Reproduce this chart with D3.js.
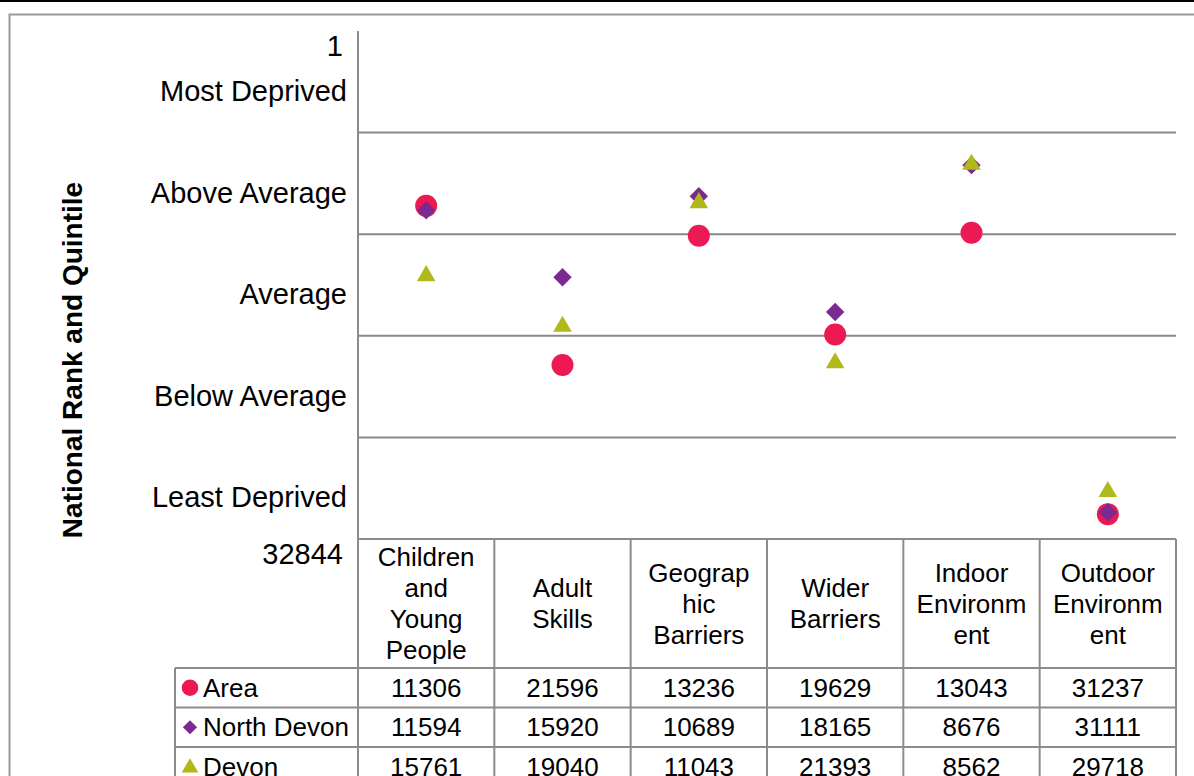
<!DOCTYPE html>
<html>
<head>
<meta charset="utf-8">
<script src="https://cdn.jsdelivr.net/npm/d3@7"></script>
<style>
  html, body { margin: 0; padding: 0; background: #fff; }
  svg { display: block; font-family: "Liberation Sans", Arial, sans-serif; }
</style>
</head>
<body>
<svg id="chart" width="1194" height="776"></svg>
<script>
// ---- data ----
const categories = ["Children and Young People", "Adult Skills", "Geographic Barriers", "Wider Barriers", "Indoor Environment", "Outdoor Environment"];
const categoryLines = [["Children", "and", "Young", "People"], ["Adult", "Skills"], ["Geograp", "hic", "Barriers"], ["Wider", "Barriers"], ["Indoor", "Environm", "ent"], ["Outdoor", "Environm", "ent"]];
const seriesNames = ["Area", "North Devon", "Devon"];
const areaValues = [11306, 21596, 13236, 19629, 13043, 31237];
const northDevonValues = [11594, 15920, 10689, 18165, 8676, 31111];
const devonValues = [15761, 19040, 11043, 21393, 8562, 29718];
const rankMin = 1, rankMax = 32844;
const quintileLabels = ["Most Deprived", "Above Average", "Average", "Below Average", "Least Deprived"];

const series = [
  { name: seriesNames[0], values: areaValues, shape: "circle", color: "#ED1952" },
  { name: seriesNames[1], values: northDevonValues, shape: "diamond", color: "#7A2A90" },
  { name: seriesNames[2], values: devonValues, shape: "triangle", color: "#B1B81C" }
];

// ---- layout ----
const svg = d3.select("#chart");
const W = 1194, H = 776;
const plot = { left: 358, right: 1176, top: 31, bottom: 539 };
const headerBottom = 668, rowH = 39.5, legendLeft = 175;
const gridColor = "#888888", tableColor = "#8c8c8c";

const x = d3.scaleBand().domain(categories).range([plot.left, plot.right]);
const y = d3.scaleLinear().domain([rankMin, rankMax]).range([plot.top, plot.bottom]);

// page frame
svg.append("rect").attr("x", 0).attr("y", 0).attr("width", W).attr("height", 2).attr("fill", "#000");
svg.append("path").attr("d", `M9.5,${H} V14.5 H${W}`).attr("fill", "none").attr("stroke", "#9a9a9a").attr("stroke-width", 2);

// quintile gridlines
const quintileEdges = d3.range(1, 5).map(k => rankMin + (rankMax - rankMin) * k / 5);
svg.append("g").selectAll("line").data(quintileEdges).join("line")
  .attr("x1", plot.left).attr("x2", plot.right)
  .attr("y1", d => y(d)).attr("y2", d => y(d))
  .attr("stroke", gridColor).attr("stroke-width", 2);

// y axis (labels only, custom)
const yAxis = d3.axisLeft(y).tickValues([rankMin, rankMax]).tickSize(0).tickFormat(d3.format("d"));
const yg = svg.append("g").attr("transform", `translate(${plot.left - 12},0)`).call(yAxis);
yg.select(".domain").remove();
yg.selectAll("text").attr("font-size", 29).attr("fill", "#000").attr("font-family", "Liberation Sans, Arial, sans-serif")
  .attr("dy", "0.35em").attr("transform", "translate(0,14)");

const quintileMids = quintileLabels.map((t, i) => ({ t, v: rankMin + (rankMax - rankMin) * (i + 0.5) / 5 }));
svg.append("g").selectAll("text").data(quintileMids).join("text")
  .attr("x", plot.left - 11).attr("y", d => y(d.v) + 9)
  .attr("dy", "0.35em").attr("text-anchor", "end").attr("font-size", 29).attr("fill", "#000")
  .text(d => d.t);

// axis title
svg.append("text")
  .attr("transform", `translate(72,${360}) rotate(-90)`)
  .attr("text-anchor", "middle").attr("dy", "0.35em")
  .attr("font-size", 28).attr("font-weight", "bold").attr("fill", "#000")
  .text("National Rank and Quintile");

// ---- data table ----
const tg = svg.append("g").attr("stroke", tableColor).attr("stroke-width", 2).attr("fill", "none");
tg.append("line").attr("x1", plot.left).attr("x2", plot.left).attr("y1", plot.top).attr("y2", H);
tg.append("line").attr("x1", plot.left).attr("x2", plot.right).attr("y1", plot.bottom).attr("y2", plot.bottom);
const colEdges = categories.map(c => x(c) + x.bandwidth());
tg.selectAll("line.col").data(colEdges).join("line").attr("class", "col")
  .attr("x1", d => d).attr("x2", d => d).attr("y1", plot.bottom).attr("y2", H);
const rowTops = seriesNames.map((s, i) => headerBottom + i * rowH);
tg.selectAll("line.row").data(rowTops).join("line").attr("class", "row")
  .attr("x1", legendLeft).attr("x2", plot.right).attr("y1", d => d).attr("y2", d => d);
tg.append("line").attr("x1", legendLeft).attr("x2", legendLeft).attr("y1", headerBottom).attr("y2", H);

// header text
const headerMid = (plot.bottom + headerBottom) / 2;
const lineH = 31;
categories.forEach((c, i) => {
  const lines = categoryLines[i];
  const t = svg.append("text").attr("text-anchor", "middle").attr("font-size", 26).attr("fill", "#000");
  lines.forEach((ln, j) => {
    t.append("tspan").attr("x", x(c) + x.bandwidth() / 2)
      .attr("y", headerMid + (j - (lines.length - 1) / 2) * lineH)
      .attr("dy", "0.35em").text(ln);
  });
});

// value rows
series.forEach((s, si) => {
  const cy = headerBottom + si * rowH + rowH / 2;
  svg.append("g").selectAll("text").data(s.values).join("text")
    .attr("x", (d, i) => x(categories[i]) + x.bandwidth() / 2)
    .attr("y", cy).attr("dy", "0.35em").attr("text-anchor", "middle")
    .attr("font-size", 26).attr("fill", "#000").text(d => d);
  svg.append("text").attr("x", 203).attr("y", cy).attr("dy", "0.35em")
    .attr("font-size", 26).attr("fill", "#000").text(s.name);
});

// ---- markers ----
function symbolFor(shape, scale) {
  if (shape === "circle") return d3.symbol().type(d3.symbolCircle).size(Math.PI * 11 * 11 * scale)();
  if (shape === "diamond") return d3.symbol().type(d3.symbolSquare).size(13 * 13 * scale)();
  return d3.symbol().type(d3.symbolTriangle).size(150 * scale)();
}
series.forEach(s => {
  const path = symbolFor(s.shape, 1);
  svg.append("g").selectAll("path").data(s.values).join("path")
    .attr("d", path)
    .attr("transform", (d, i) => `translate(${x(categories[i]) + x.bandwidth() / 2},${y(d)})${s.shape === "diamond" ? " rotate(45)" : ""}${s.shape === "triangle" ? " translate(0,1)" : ""}`)
    .attr("fill", s.color);
});
// legend markers
const legendScale = { circle: 0.57, diamond: 0.6, triangle: 0.8 };
series.forEach((s, si) => {
  const cy = headerBottom + si * rowH + rowH / 2;
  svg.append("path").attr("d", symbolFor(s.shape, legendScale[s.shape]))
    .attr("transform", `translate(190,${cy + (s.shape === "triangle" ? 1 : 0)})${s.shape === "diamond" ? " rotate(45)" : ""}`)
    .attr("fill", s.color);
});
</script>
</body>
</html>
